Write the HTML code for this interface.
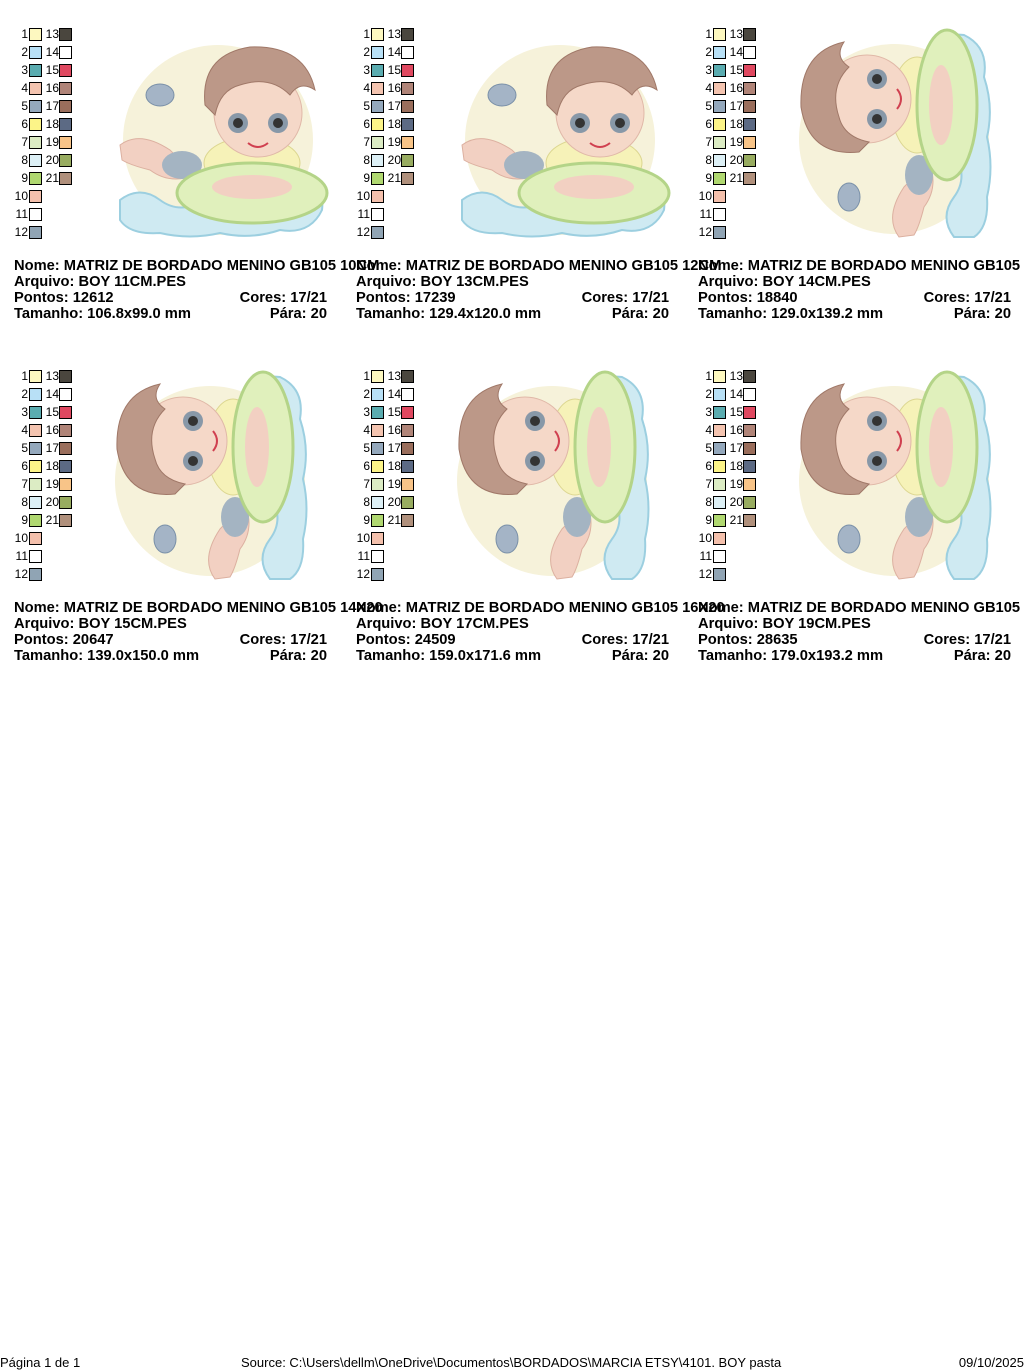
<!DOCTYPE html>
<html><head><meta charset="utf-8"><style>
body{margin:0;width:1024px;height:1370px;background:#fff;position:relative;font-family:"Liberation Sans",Arial,sans-serif;overflow:hidden}
.p{position:absolute;width:342px;height:342px}
.sw{position:absolute;font-size:12px;line-height:12px;color:#000}
.n{position:absolute;width:18px;text-align:right}
.b{position:absolute;width:11px;height:11px;border:1px solid #000}
.t{position:absolute;left:14px;font-weight:bold;font-size:14.7px;line-height:16px;white-space:nowrap;color:#000}
.r{position:absolute;font-weight:bold;font-size:14.7px;line-height:16px;white-space:nowrap;text-align:right;right:15px}
.ill{position:absolute}
.f{position:absolute;top:1355px;font-size:13px}
</style></head><body>
<svg width="0" height="0" style="position:absolute">
<defs>
<symbol id="A" viewBox="0 0 220 210">
<circle cx="108" cy="105" r="95" fill="#f6f2da"/>
<path d="M10 165 Q30 150 50 165 Q70 180 95 165 Q120 150 145 165 Q170 180 195 160 Q215 150 212 175 Q200 200 170 195 Q140 205 110 198 Q80 205 50 198 Q20 200 10 185Z" fill="#cfeaf2" stroke="#9ccfe0" stroke-width="2"/>
<path d="M10 110 Q30 95 60 115 L85 140 Q60 150 40 135 Q20 130 12 125Z" fill="#f2d0c2" stroke="#dcb0a0"/>
<ellipse cx="72" cy="130" rx="20" ry="14" fill="#a4b4c2"/>
<ellipse cx="142" cy="128" rx="48" ry="26" fill="#f6f2b8" stroke="#dcd690"/>
<ellipse cx="142" cy="158" rx="75" ry="30" fill="#e0f0bc" stroke="#b4d488" stroke-width="3"/>
<ellipse cx="142" cy="152" rx="40" ry="12" fill="#f2d0c2"/>
<circle cx="148" cy="78" r="44" fill="#f5d8c8" stroke="#e0b8a8"/>
<path d="M95 70 Q90 20 140 12 Q195 10 205 55 Q190 45 180 60 Q160 40 130 50 Q110 55 105 80Z" fill="#bc9888" stroke="#a07868"/>
<circle cx="128" cy="88" r="10" fill="#8898a8"/><circle cx="128" cy="88" r="5" fill="#333"/>
<circle cx="168" cy="88" r="10" fill="#8898a8"/><circle cx="168" cy="88" r="5" fill="#333"/>
<path d="M138 108 Q148 116 158 108" stroke="#d04050" stroke-width="2" fill="none"/>
<ellipse cx="50" cy="60" rx="14" ry="11" fill="#a4b4c6" stroke="#7a90a8"/>
</symbol>
</defs>
</svg>

<div id="c"></div>
<script>
var L=[["1","#fdf8c0"],["2","#b8e0f6"],["3","#5aacb0"],["4","#f4c4b0"],["5","#94a8bc"],["6","#fcf488"],["7","#dcecc4"],["8","#ddf0f6"],["9","#b0d870"],["10","#f4c0ac"],["11","#fff"],["12","#90a4b4"]];
var R=[["13","#4a463e"],["14","#fff"],["15","#e04860"],["16","#b08478"],["17","#9a6e5c"],["18","#5c6a84"],["19","#f8c488"],["20","#98ac60"],["21","#b0907c"]];
var D=[["10CM","BOY 11CM.PES","12612","106.8x99.0 mm"],["12CM","BOY 13CM.PES","17239","129.4x120.0 mm"],["13CM","BOY 14CM.PES","18840","129.0x139.2 mm"],["14X20","BOY 15CM.PES","20647","139.0x150.0 mm"],["16X20","BOY 17CM.PES","24509","159.0x171.6 mm"],["18X20","BOY 19CM.PES","28635","179.0x193.2 mm"]];
var h="";
for(var i=0;i<6;i++){
 var x=(i%3)*342,y=Math.floor(i/3)*342;
 h+='<div class="p" style="left:'+x+'px;top:'+y+'px">';
 for(var k=0;k<12;k++){var yy=28+k*18;h+='<div class="sw" style="top:'+yy+'px;left:0"><span class="n" style="left:10px">'+L[k][0]+'</span><span class="b" style="left:29px;background:'+L[k][1]+'"></span></div>';}
 for(var k=0;k<9;k++){var yy=28+k*18;h+='<div class="sw" style="top:'+yy+'px;left:0"><span class="n" style="left:41px">'+R[k][0]+'</span><span class="b" style="left:59px;background:'+R[k][1]+'"></span></div>';}
 var rot=(i<2)?'':'transform:rotate(-90deg);';
 h+='<svg class="ill" style="left:'+(i<2?110:100)+'px;top:'+(i<2?35:32)+'px;'+rot+'" width="220" height="210"><use href="#A"/></svg>';
 h+='<div class="t" style="top:258px">Nome: MATRIZ DE BORDADO MENINO GB105 '+D[i][0]+'</div>';
 h+='<div class="t" style="top:274px">Arquivo: '+D[i][1]+'</div>';
 h+='<div class="t" style="top:290px">Pontos: '+D[i][2]+'</div><div class="r" style="top:290px">Cores: 17/21</div>';
 h+='<div class="t" style="top:306px">Tamanho: '+D[i][3]+'</div><div class="r" style="top:306px">Pára: 20</div>';
 h+='</div>';
}
document.getElementById("c").innerHTML=h;
</script>
<div class="f" style="left:0">Página 1 de 1</div>
<div class="f" style="left:241px">Source: C:\Users\dellm\OneDrive\Documentos\BORDADOS\MARCIA ETSY\4101. BOY pasta</div>
<div class="f" style="right:0">09/10/2025</div>
</body></html>
